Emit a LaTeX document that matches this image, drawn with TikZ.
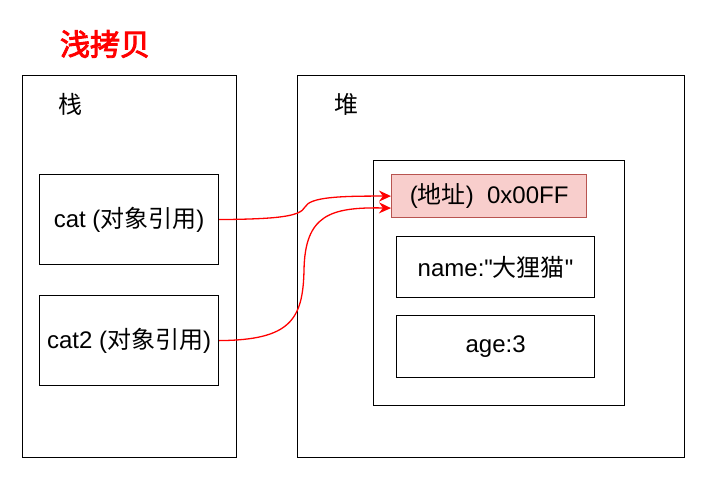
\documentclass[tikz,border=0pt]{standalone}
\usepackage{fontspec}
\setmainfont{Liberation Sans}[Ligatures=TeXOff]
\newfontfamily\cjk{Noto Sans CJK SC}
\newfontfamily\cjkbold{Noto Sans CJK SC}[FakeBold=3]
\newcommand{\zh}[1]{{\cjk #1}}
\usepackage{tikz}
\usetikzlibrary{arrows.meta}
\usetikzlibrary{positioning}
\definecolor{addrfill}{HTML}{F8CECC}
\definecolor{addrline}{HTML}{B85450}
\tikzstyle{area}=[draw,line width=1.2pt,inner sep=0pt,anchor=north west]
\tikzstyle{box}=[draw,line width=1.2pt,inner sep=0pt,anchor=north west,font=\fontsize{24}{28}\selectfont]
\tikzstyle{label}=[inner sep=0pt,font=\fontsize{24}{28}\selectfont]
\tikzstyle{ptr}=[draw=red,line width=1.3pt,-{Stealth[length=12pt,width=11pt]}]

\begin{document}
\begin{tikzpicture}[x=1pt,y=-1pt]
	\useasboundingbox (0,0) rectangle (717,478);
	\node[inner sep=0pt,text=red,font=\fontsize{30}{34}\selectfont] (title) at (105,44) {\cjkbold 浅拷贝};
	% stack
	\node[area,minimum width=214pt,minimum height=382pt] (stack) at (22,75) {};
	\node[label] (stacklbl) at (70,104) {\zh{栈}};
	\node[box,minimum width=179pt,minimum height=90pt] (cat) at (39,174) {cat (\zh{对象引用})};
	\node[box,minimum width=179pt,minimum height=90pt] (cat2) at (39,295) {cat2 (\zh{对象引用})};
	% heap
	\node[area,minimum width=387pt,minimum height=382pt] (heap) at (297,75) {};
	\node[label] (heaplbl) at (346,104) {\zh{堆}};
	\node[area,minimum width=251pt,minimum height=245pt] (obj) at (373,160) {};
	\node[box,fill=addrfill,draw=addrline,minimum width=195pt,minimum height=43pt] (addr) at (391,174) {(\zh{地址})\ \ 0x00FF};
	\node[box,minimum width=198pt,minimum height=61pt] (name) at (396,236) {name:"\zh{大狸猫}"};
	\node[box,minimum width=198pt,minimum height=62pt] (age) at (396,315) {age:3};
	%\coordinate for second pointer
	\coordinate (addrin) at ([yshift=-12pt]addr.west);
	\draw[ptr] (cat.east) .. controls (275,219) and (300,217) .. (305,207) .. controls (310,197) and (340,196) .. (addr.west);
	\draw[ptr] (cat2.east) .. controls (290,340) and (303,320) .. (304,270) .. controls (305,215) and (330,207) .. (addrin);
\end{tikzpicture}
\end{document}
